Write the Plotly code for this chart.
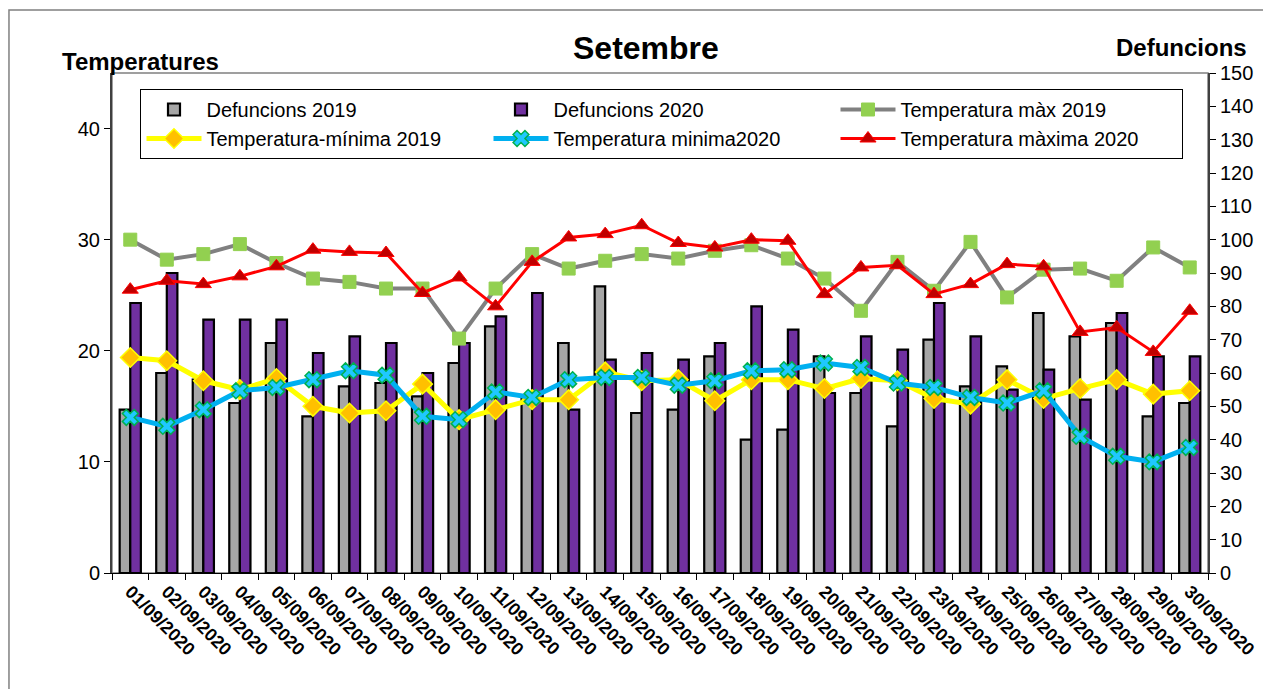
import plotly.graph_objects as go

dates = [f"{d:02d}/09/2020" for d in range(1, 31)]

def_2019 = [49, 60, 58, 51, 69, 47, 56, 57, 53, 63,
            74, 53, 69, 86, 48, 49, 65, 40, 43, 65,
            54, 44, 70, 56, 62, 78, 71, 75, 47, 51]
def_2020 = [81, 90, 76, 76, 76, 66, 71, 69, 60, 69,
            77, 84, 49, 64, 66, 64, 69, 80, 73, 54,
            71, 67, 81, 71, 55, 61, 52, 78, 65, 65]
tmax_2019 = [30.0, 28.2, 28.7, 29.6, 27.9, 26.5, 26.2, 25.6, 25.6, 21.1,
             25.6, 28.7, 27.4, 28.1, 28.7, 28.3, 29.0, 29.5, 28.3, 26.5,
             23.6, 28.0, 25.4, 29.8, 24.8, 27.3, 27.4, 26.3, 29.3, 27.5]
tmin_2019 = [19.4, 19.1, 17.3, 16.5, 17.5, 15.0, 14.4, 14.6, 17.0, 13.8,
             14.7, 15.6, 15.6, 18.1, 17.3, 17.4, 15.5, 17.4, 17.4, 16.6,
             17.5, 17.3, 15.7, 15.2, 17.4, 15.7, 16.6, 17.4, 16.1, 16.4]
tmin_2020 = [14.0, 13.2, 14.7, 16.4, 16.7, 17.4, 18.2, 17.8, 14.1, 13.8,
             16.3, 15.8, 17.4, 17.6, 17.6, 16.9, 17.3, 18.2, 18.3, 18.9,
             18.5, 17.1, 16.7, 15.8, 15.3, 16.4, 12.3, 10.5, 10.0, 11.3]
tmax_2020 = [25.5, 26.3, 26.0, 26.7, 27.6, 29.1, 28.9, 28.8, 25.2, 26.6,
             24.0, 28.0, 30.2, 30.5, 31.3, 29.7, 29.3, 30.0, 29.9, 25.1,
             27.5, 27.7, 25.1, 26.0, 27.8, 27.6, 21.7, 22.1, 19.9, 23.6]

left_ticks = [0, 10, 20, 30, 40]

FONT = "Liberation Sans, Arial, sans-serif"

fig = go.Figure()

fig.add_trace(go.Bar(x=dates, y=def_2019, name="Defuncions 2019", yaxis="y",
                     marker=dict(color="#a6a6a6", line=dict(color="black", width=2.2))))
fig.add_trace(go.Bar(x=dates, y=def_2020, name="Defuncions 2020", yaxis="y",
                     marker=dict(color="#7030a0", line=dict(color="black", width=2.2))))
fig.add_trace(go.Scatter(x=dates, y=tmax_2019, name="Temperatura màx 2019", yaxis="y2",
                         mode="lines+markers",
                         line=dict(color="#808080", width=4),
                         marker=dict(symbol="square", size=13, color="#92d050",
                                     line=dict(color="#92d050", width=1))))
fig.add_trace(go.Scatter(x=dates, y=tmin_2019, name="Temperatura-mínima 2019", yaxis="y2",
                         mode="lines+markers",
                         line=dict(color="#ffff00", width=5),
                         marker=dict(symbol="diamond", size=15, color="#ffc000",
                                     line=dict(color="#ffff00", width=1.5))))
fig.add_trace(go.Scatter(x=dates, y=tmin_2020, name="Temperatura minima2020", yaxis="y2",
                         mode="lines+markers",
                         line=dict(color="#00b0f0", width=5),
                         marker=dict(symbol="x", size=14, color="#1fc8ff",
                                     line=dict(color="#00b050", width=1.5))))
fig.add_trace(go.Scatter(x=dates, y=tmax_2020, name="Temperatura màxima 2020", yaxis="y2",
                         mode="lines+markers",
                         line=dict(color="#ff0000", width=3),
                         marker=dict(symbol="triangle-up", size=14, color="#c00000",
                                     line=dict(color="#ff0000", width=1))))

fig.update_layout(
    width=1255, height=681,
    margin=dict(l=104, r=55, t=65, b=116, autoexpand=False),
    paper_bgcolor="white", plot_bgcolor="white",
    font=dict(family=FONT, color="black"),
    barmode="group", bargap=0.42, bargroupgap=0,
    showlegend=True,
    legend=dict(orientation="h", x=0.026, y=0.968, xanchor="left", yanchor="top",
                bordercolor="black", borderwidth=1, bgcolor="white",
                font=dict(size=20, family=FONT), itemwidth=55,
                entrywidth=277, entrywidthmode="pixels",
                traceorder="normal"),
    xaxis=dict(type="category", range=[-0.5, 29.5], tickangle=45, ticks="outside",
               tickson="boundaries", ticklen=6, tickcolor="black", showline=True,
               linecolor="black", linewidth=1,
               tickfont=dict(size=18, family=FONT, weight="bold"), showgrid=False),
    yaxis=dict(side="right", range=[0, 150], dtick=10, ticks="outside", ticklen=6,
               tickcolor="black", showline=True, linecolor="#404040", linewidth=2,
               tickfont=dict(size=20, family=FONT), showgrid=False, zeroline=False),
    yaxis2=dict(side="left", overlaying="y", range=[0, 45], tickvals=left_ticks,
                ticks="outside", ticklen=6, tickcolor="black", showline=True,
                linecolor="#404040", linewidth=2, tickfont=dict(size=20, family=FONT),
                showgrid=False, zeroline=False),
    shapes=[
        dict(type="rect", xref="paper", yref="paper", x0=0, x1=1, y0=0, y1=1,
             line=dict(color="#808080", width=1.5), layer="below"),
        dict(type="rect", xref="paper", yref="paper", x0=-0.094, x1=1.07, y0=-0.3, y1=1.126,
             line=dict(color="#808080", width=1.5), layer="below"),
    ],
    annotations=[
        dict(text="<b>Setembre</b>", xref="paper", yref="paper", x=0.487, y=1.05,
             xanchor="center", yanchor="middle",
             showarrow=False, font=dict(size=32, family=FONT)),
        dict(text="<b>Temperatures</b>", xref="paper", yref="paper", x=0.026, y=1.022,
             xanchor="center", yanchor="middle",
             showarrow=False, font=dict(size=24, family=FONT)),
        dict(text="<b>Defuncions</b>", xref="paper", yref="paper", x=0.976, y=1.05,
             xanchor="center", yanchor="middle",
             showarrow=False, font=dict(size=24, family=FONT)),
    ],
)

fig.write_html("out.html")
